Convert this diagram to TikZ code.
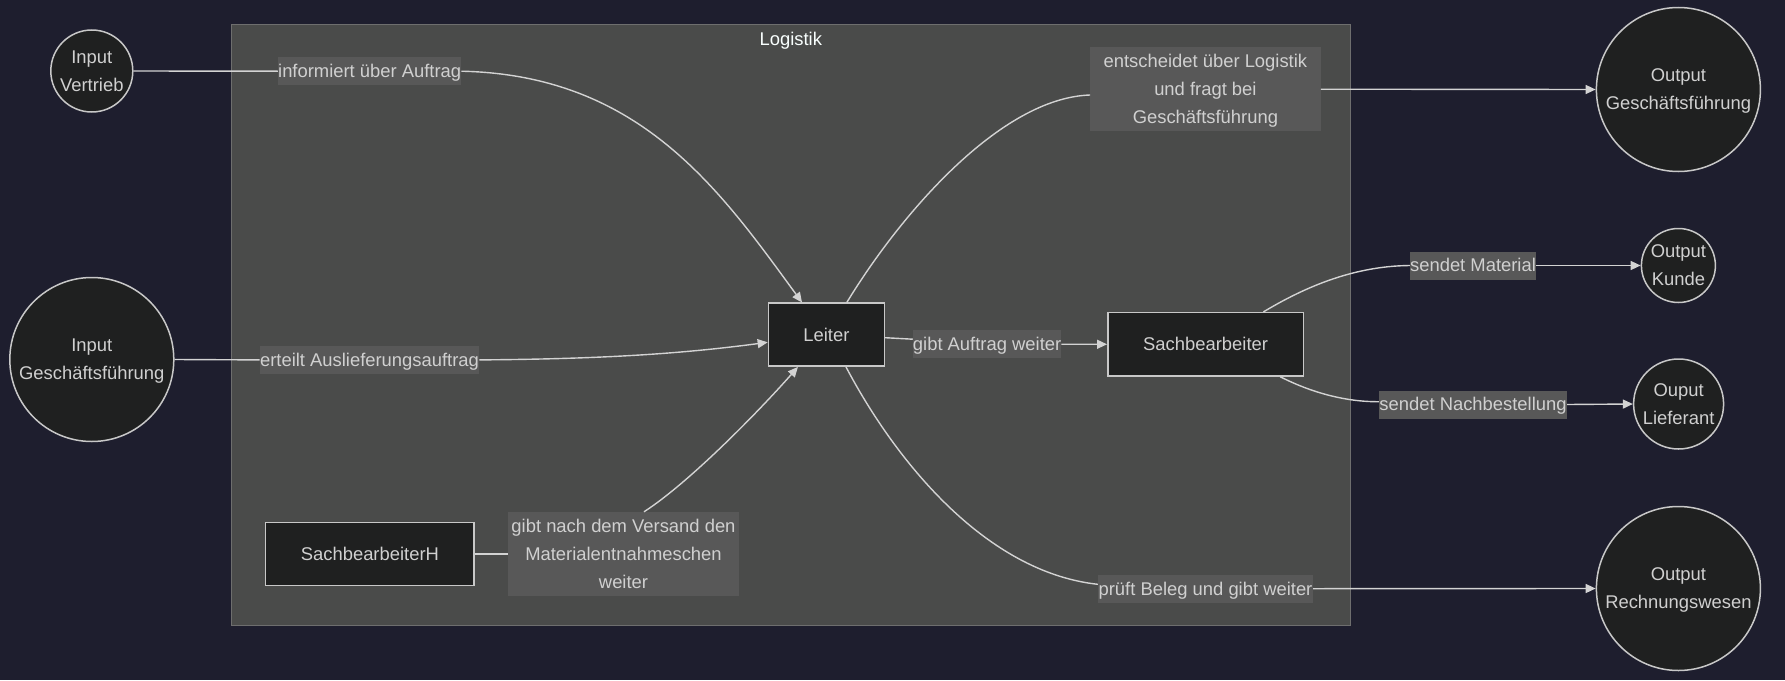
\documentclass[tikz,border=0pt]{standalone}
\usepackage{fontspec}
\setmainfont{Liberation Sans}
\usetikzlibrary{arrows.meta,calc}
\definecolor{bgc}{HTML}{1E1E2E}
\definecolor{clfill}{HTML}{4A4B4A}
\definecolor{cldraw}{HTML}{6E6E6E}
\definecolor{nodefill}{HTML}{1F2020}
\definecolor{nodestroke}{HTML}{C8C8C8}
\definecolor{linec}{HTML}{D3D3D3}
\definecolor{lblbg}{HTML}{585858}
\definecolor{txt}{HTML}{D0D0D0}
\definecolor{titletxt}{HTML}{F9FFFE}
\newcommand\myfs{\fontsize{18.4}{28}\selectfont}
\newcommand\Ls{\rule[-7.6pt]{0pt}{28pt}}
\tikzset{
  boxnode/.style={draw=nodestroke, fill=nodefill, line width=1.5pt, rectangle, inner sep=0pt, text=txt, font=\myfs},
  circnode/.style={draw=nodestroke, fill=nodefill, line width=1.5pt, circle, inner sep=0pt},
  ctext/.style={text=txt, font=\myfs, align=center, inner sep=0pt},
  lbl/.style={fill=lblbg, inner sep=0pt, text=txt, font=\myfs, align=center},
  conn/.style={draw=linec, line width=1.4pt},
  arr/.style={conn, -{Triangle[length=10pt,width=9pt]}}
}
\begin{document}
\begin{tikzpicture}[x=1pt,y=-1pt]
\fill[bgc] (0,0) rectangle (1785,680);
\useasboundingbox (0,0) rectangle (1785,680);
% cluster
\node[draw=cldraw, fill=clfill, line width=1pt, minimum width=1119.2pt, minimum height=601.4pt, inner sep=0pt] (log) at (790.8,325) {};
\node[text=titletxt, font=\myfs, inner sep=0pt] (logt) at (790.8,38.7) {Logistik\Ls};
% nodes
\node[circnode, minimum size=82pt, label={[ctext]center:{Input\Ls\\Vertrieb\Ls}}] (iv) at (91.8,71) {};
\node[circnode, minimum size=164pt, label={[ctext]center:{Input\Ls\\Geschäftsführung\Ls}}] (igf) at (91.8,359.5) {};
\node[circnode, minimum size=164pt, label={[ctext]center:{Output\Ls\\Geschäftsführung\Ls}}] (ogf) at (1678.4,89.5) {};
\node[circnode, minimum size=74pt, label={[ctext]center:{Output\Ls\\Kunde\Ls}}] (ok) at (1678.4,265.5) {};
\node[circnode, minimum size=90pt, label={[ctext]center:{Ouput\Ls\\Lieferant\Ls}}] (ol) at (1678.6,404) {};
\node[circnode, minimum size=164pt, label={[ctext]center:{Output\Ls\\Rechnungswesen\Ls}}] (orw) at (1678.4,588.5) {};
\node[boxnode, minimum width=116pt, minimum height=63pt] (leiter) at (826.4,334.7) {Leiter\Ls};
\node[boxnode, minimum width=195.6pt, minimum height=63.3pt] (sb) at (1205.6,344.3) {Sachbearbeiter\Ls};
\node[boxnode, minimum width=208.6pt, minimum height=62.6pt] (sbh) at (369.9,554) {SachbearbeiterH\Ls};
% labels
\node[lbl, minimum width=183pt, minimum height=27.7pt] (l1) at (369.7,71.2) {informiert über Auftrag\Ls};
\node[lbl, minimum width=219.2pt, minimum height=27.7pt] (l2) at (369.5,359.9) {erteilt Auslieferungsauftrag\Ls};
\node[lbl, minimum width=230.3pt, minimum height=83pt] (l3) at (1205.4,89.2) {entscheidet über Logistik\Ls\\und fragt bei\Ls\\Geschäftsführung\Ls};
\node[lbl, minimum width=148.2pt, minimum height=27.7pt] (l4) at (987.1,344.2) {gibt Auftrag weiter\Ls};
\node[lbl, minimum width=230.7pt, minimum height=82.6pt] (l5) at (623.5,554) {gibt nach dem Versand den\Ls\\Materialentnahmeschen\Ls\\weiter\Ls};
\node[lbl, minimum width=215pt, minimum height=27.3pt] (l6) at (1205.5,588.7) {prüft Beleg und gibt weiter\Ls};
\node[lbl, minimum width=125.7pt, minimum height=27.6pt] (l7) at (1473,265.5) {sendet Material\Ls};
\node[lbl, minimum width=187.7pt, minimum height=27.6pt] (l8) at (1473,404.5) {sendet Nachbestellung\Ls};
% connectors
\draw[conn] (iv.east) -- (l1.west);
\draw[arr] (l1.east) .. controls (640,75) and (720,190) .. ([xshift=-24.4pt]leiter.north);
\draw[conn] (igf.east) -- (l2.west);
\draw[arr] (l2.east) .. controls (600,359) and (680,354) .. ([yshift=-7.6pt]leiter.west);
\draw[conn] ([xshift=20.4pt]leiter.north) .. controls (900,215) and (1000,98) .. ([yshift=-5.8pt]l3.west);
\draw[arr] (l3.east) -- (ogf.west);
\draw[conn] ([yshift=-3pt]leiter.east) -- ([yshift=5pt]l4.west);
\draw[arr] (l4.east) -- (sb.west);
\draw[conn] (sbh.east) -- (l5.west);
\draw[arr] ([xshift=20.5pt]l5.north) .. controls (690,482) and (760,410) .. ([xshift=-28.5pt]leiter.south);
\draw[conn] ([xshift=19.6pt]leiter.south) .. controls (895,460) and (985,572) .. ([yshift=4.4pt]l6.west);
\draw[arr] (l6.east) -- (orw.west);
\draw[conn] ([xshift=57.8pt]sb.north) .. controls (1300,290) and (1350,266) .. (l7.west);
\draw[arr] (l7.east) -- (ok.west);
\draw[conn] ([xshift=74.6pt]sb.south) .. controls (1310,392) and (1345,402) .. ([yshift=2.8pt]l8.west);
\draw[arr] (l8.east) -- (ol.west);
\end{tikzpicture}
\end{document}
